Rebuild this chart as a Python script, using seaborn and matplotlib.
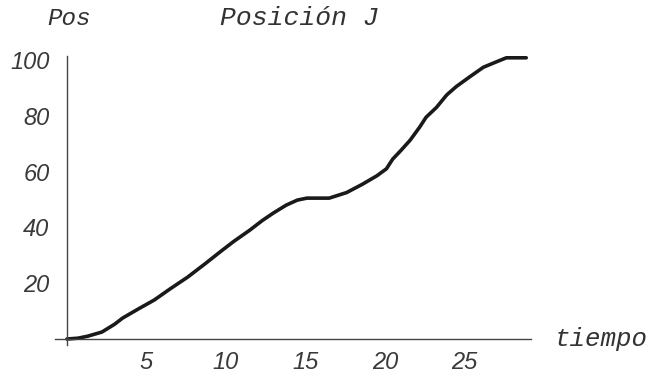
import numpy as np
import pandas as pd
import matplotlib
matplotlib.use("Agg")
import matplotlib.pyplot as plt
import seaborn as sns
from matplotlib.ticker import MultipleLocator

# Datos (tiempo, posición J)
tiempo = [0, 0.7, 1.3, 2.2, 3.0, 3.5, 4.5, 5.5, 6.5, 7.6, 8.7, 9.7, 10.5, 11.5,
          12.3, 13.0, 13.8, 14.5, 15.1, 16.5, 17.6, 18.6, 19.5, 20.1, 20.5, 21.0,
          21.6, 22.2, 22.6, 23.25, 23.9, 24.5, 25.35, 26.2, 27.0, 27.65, 28.9]
posicion = [0, 0.3, 1.0, 2.5, 5.3, 7.5, 10.8, 14.0, 18.0, 22.2, 27.0, 31.5, 35.0, 39.0,
            42.5, 45.2, 48.0, 49.8, 50.5, 50.5, 52.5, 55.5, 58.5, 61.0, 64.5, 67.5,
            71.3, 76.0, 79.5, 83.0, 87.5, 90.5, 94.0, 97.4, 99.3, 100.8, 100.8]
x_ticks = [5, 10, 15, 20, 25]
y_ticks = [20, 40, 60, 80, 100]

df = pd.DataFrame({"tiempo": tiempo, "Pos": posicion})

sns.set_style("white")

fig = plt.figure(figsize=(6.5, 3.76), dpi=100)
ax = fig.add_axes([55 / 650, 0.0835, (531 - 55) / 650, 0.85 - 0.0835])

sns.lineplot(data=df, x="tiempo", y="Pos", color="#1a1a1a", linewidth=2.6, ax=ax)

ax.set_xlim(-0.75, 29.2)
ax.set_ylim(-2, 101.3)

# Ejes estilo Mathematica cruzando en el origen
for lado in ["top", "right"]:
    ax.spines[lado].set_visible(False)
ax.spines["left"].set_position(("data", 0))
ax.spines["bottom"].set_position(("data", 0))
for lado in ["left", "bottom"]:
    ax.spines[lado].set_color("#444444")
    ax.spines[lado].set_linewidth(1.0)

ax.set_xticks(x_ticks)
ax.set_yticks(y_ticks)
ax.xaxis.set_minor_locator(MultipleLocator(1))
ax.yaxis.set_minor_locator(MultipleLocator(5))
ax.tick_params(which="major", direction="inout", length=5, width=0.8, color="#555555")
ax.tick_params(which="minor", direction="inout", length=3, width=0.6, color="#888888")
ax.tick_params(axis="x", pad=6)
ax.tick_params(axis="y", pad=10)

for lab in ax.get_xticklabels() + ax.get_yticklabels():
    lab.set_fontfamily("Liberation Sans")
    lab.set_fontstyle("italic")
    lab.set_fontsize(17)
    lab.set_color("#3a3a3a")

ax.set_xlabel("")
ax.set_ylabel("")
ax.grid(False)

fig.text(0.106, 0.952, "Pos", ha="center", va="center", fontsize=17.5,
         family="Liberation Mono", style="italic", color="#333333")
fig.text(0.46, 0.952, "Posición J", ha="center", va="center", fontsize=19,
         family="Liberation Mono", style="italic", color="#333333")
fig.text(0.853, 0.098, "tiempo", ha="left", va="center", fontsize=18.5,
         family="Liberation Mono", style="italic", color="#333333")

fig.savefig("out.png", dpi=100)
